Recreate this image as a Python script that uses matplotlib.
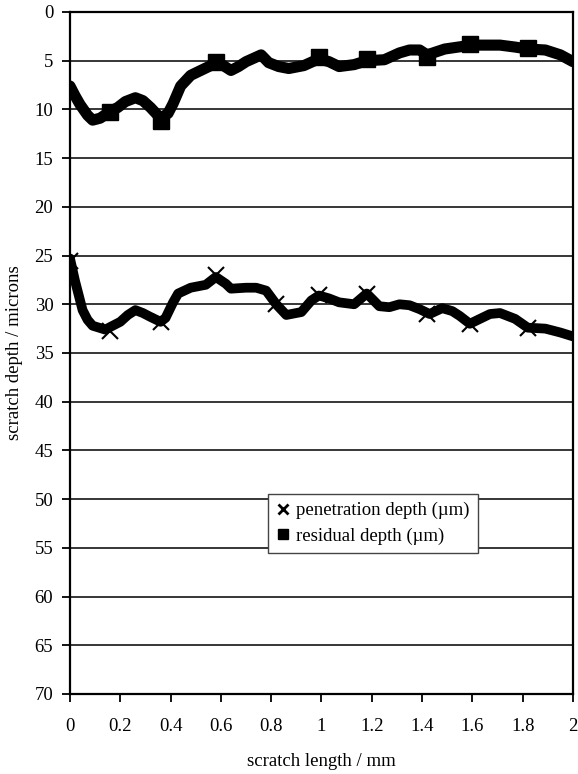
import matplotlib
matplotlib.use("Agg")
import matplotlib.pyplot as plt
from matplotlib.lines import Line2D

plt.rcParams['font.family'] = ['Liberation Serif', 'DejaVu Serif']

# scratch length (mm) and depths (microns)
res_x = [0.0, 0.02, 0.04, 0.07, 0.09, 0.12, 0.16, 0.19, 0.22, 0.26, 0.29, 0.32, 0.36,
         0.39, 0.41, 0.44, 0.48, 0.52, 0.56, 0.58, 0.61, 0.64, 0.67, 0.70, 0.76, 0.79,
         0.83, 0.87, 0.93, 0.99, 1.03, 1.07, 1.13, 1.18, 1.25, 1.31, 1.35, 1.39, 1.42,
         1.49, 1.57, 1.59, 1.65, 1.71, 1.77, 1.82, 1.89, 1.95, 2.0]
res_y = [7.6, 8.6, 9.5, 10.6, 11.1, 10.9, 10.2, 9.8, 9.2, 8.8, 9.1, 9.8, 10.9,
         10.4, 9.4, 7.6, 6.5, 6.0, 5.5, 5.2, 5.5, 6.0, 5.6, 5.1, 4.4, 5.2,
         5.6, 5.8, 5.5, 4.8, 5.1, 5.6, 5.4, 5.0, 4.9, 4.2, 3.9, 3.9, 4.4,
         3.8, 3.5, 3.4, 3.4, 3.4, 3.6, 3.8, 3.9, 4.4, 5.1]

pen_x = [0.0, 0.02, 0.05, 0.07, 0.09, 0.14, 0.20, 0.23, 0.26, 0.29, 0.32, 0.36, 0.38,
         0.41, 0.43, 0.48, 0.54, 0.58, 0.62, 0.64, 0.70, 0.74, 0.78, 0.82, 0.86, 0.92,
         0.96, 0.99, 1.03, 1.07, 1.13, 1.18, 1.23, 1.27, 1.31, 1.35, 1.39, 1.43, 1.48,
         1.52, 1.55, 1.59, 1.63, 1.67, 1.71, 1.77, 1.82, 1.89, 1.95, 2.0]
pen_y = [25.3, 27.6, 30.6, 31.6, 32.2, 32.6, 31.8, 31.1, 30.6, 30.9, 31.3, 31.8, 31.4,
         29.8, 28.9, 28.3, 28.0, 27.2, 27.9, 28.4, 28.3, 28.3, 28.6, 30.0, 31.1, 30.8,
         29.6, 29.1, 29.4, 29.8, 30.0, 28.9, 30.2, 30.3, 30.0, 30.1, 30.5, 31.0, 30.4,
         30.7, 31.2, 32.0, 31.5, 31.0, 30.9, 31.5, 32.4, 32.5, 32.9, 33.3]

# positions where marker symbols stand out
res_mx = [0.16, 0.36, 0.58, 0.99, 1.18, 1.42, 1.59, 1.82]
res_my = [10.3, 11.2, 5.1, 4.6, 4.8, 4.6, 3.3, 3.7]
pen_mx = [0.0, 0.16, 0.36, 0.58, 0.82, 0.99, 1.18, 1.42, 1.59, 1.82]
pen_my = [25.6, 32.7, 31.8, 27.0, 30.0, 29.0, 28.9, 31.0, 32.0, 32.4]

x_ticks = [0, 0.2, 0.4, 0.6, 0.8, 1, 1.2, 1.4, 1.6, 1.8, 2]
x_labels = ['0', '0.2', '0.4', '0.6', '0.8', '1', '1.2', '1.4', '1.6', '1.8', '2']
y_ticks = list(range(0, 75, 5))

fig = plt.figure(figsize=(5.78, 7.74), dpi=100)
ax = fig.add_axes([0.1211, 0.1034, 0.8702, 0.8811])

ax.set_xlim(0, 2)
ax.set_ylim(70, 0)
ax.set_yticks(y_ticks)
ax.set_xticks(x_ticks)
ax.set_xticklabels(x_labels)
ax.yaxis.grid(True, color='black', linewidth=1.1)
ax.set_axisbelow(True)

ax.plot(res_x, res_y, color='black', lw=8, solid_capstyle='round', solid_joinstyle='round')
ax.plot(res_mx, res_my, ls='none', marker='s', ms=11, color='black')
ax.plot(pen_x, pen_y, color='black', lw=7, solid_capstyle='round', solid_joinstyle='round')
ax.plot(pen_mx, pen_my, ls='none', marker='x', ms=12, mew=1.5, color='black')

for s in ax.spines.values():
    s.set_linewidth(1.6)
    s.set_color('black')

ax.tick_params(axis='both', direction='out', length=6, width=1.3, labelsize=13.5, colors='black')
ax.tick_params(axis='x', pad=11)
ax.tick_params(axis='y', pad=6)

ax.set_xlabel('scratch length / mm', fontsize=13.5, labelpad=13)
ax.set_ylabel('scratch depth / microns', fontsize=13.5, labelpad=8)

handles = [Line2D([], [], ls='none', marker='x', ms=6.5, mew=2, color='black'),
           Line2D([], [], ls='none', marker='s', ms=6.5, color='black')]
leg = ax.legend(handles, ['penetration depth (\u00b5m)', 'residual depth (\u00b5m)'],
                loc='center', bbox_to_anchor=(0.602, 0.25), fontsize=13.5, frameon=True,
                fancybox=False, edgecolor='#444444', framealpha=1, handlelength=0.7,
                handletextpad=0.35, borderpad=0.45, labelspacing=0.45, borderaxespad=0)
leg.get_frame().set_linewidth(1.0)

fig.savefig('out.png', dpi=100)
